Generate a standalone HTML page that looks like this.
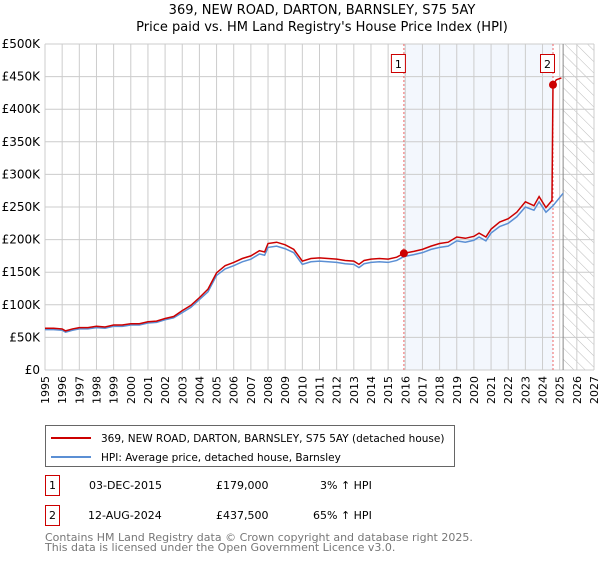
<!DOCTYPE html>
<html><head><meta charset="utf-8"><style>
body{margin:0;background:#fff;font-family:"DejaVu Sans","Liberation Sans",sans-serif;}
svg text{font-family:"DejaVu Sans","Liberation Sans",sans-serif;}
</style></head><body>
<svg id="c" width="600" height="560" viewBox="0 0 600 560">
<defs><pattern id="hatch" width="8" height="8" patternUnits="userSpaceOnUse" patternTransform="rotate(-45)"><line x1="0" y1="0" x2="0" y2="8" stroke="#bbb" stroke-width="1"/></pattern></defs>
<text x="322" y="14" text-anchor="middle" font-size="13">369, NEW ROAD, DARTON, BARNSLEY, S75 5AY</text>
<text x="322" y="31" text-anchor="middle" font-size="13">Price paid vs. HM Land Registry's House Price Index (HPI)</text>
<g id="plot"></g>
<g>
<rect x="45.5" y="425.5" width="409" height="41" fill="#fff" stroke="#666"/>
<line x1="51" y1="438" x2="91" y2="438" stroke="#cc0000" stroke-width="2"/>
<text x="101" y="442" font-size="10.5">369, NEW ROAD, DARTON, BARNSLEY, S75 5AY (detached house)</text>
<line x1="51" y1="457" x2="91" y2="457" stroke="#5b8fd4" stroke-width="2"/>
<text x="101" y="461" font-size="10.5">HPI: Average price, detached house, Barnsley</text>
</g>
<g font-size="11">
<rect x="45.5" y="475.5" width="14" height="20" fill="#fff" stroke="#cc0000"/><text x="52.5" y="489" text-anchor="middle">1</text>
<text x="89" y="489">03-DEC-2015</text><text x="216" y="489">£179,000</text><text x="320" y="489">3% ↑ HPI</text>
<rect x="45.5" y="505.5" width="14" height="20" fill="#fff" stroke="#cc0000"/><text x="52.5" y="519" text-anchor="middle">2</text>
<text x="88" y="519">12-AUG-2024</text><text x="216" y="519">£437,500</text><text x="313" y="519">65% ↑ HPI</text>
</g>
<text x="45" y="541" font-size="11" fill="#777">Contains HM Land Registry data © Crown copyright and database right 2025.</text>
<text x="45" y="551" font-size="11" fill="#777">This data is licensed under the Open Government Licence v3.0.</text>
</svg>
<script>
const yTicks=[0,50,100,150,200,250,300,350,400,450,500];
const yTickLabels=["£0","£50K","£100K","£150K","£200K","£250K","£300K","£350K","£400K","£450K","£500K"];
const xYears=[1995,1996,1997,1998,1999,2000,2001,2002,2003,2004,2005,2006,2007,2008,2009,2010,2011,2012,2013,2014,2015,2016,2017,2018,2019,2020,2021,2022,2023,2024,2025,2026,2027];
const hpiDates=[1995,1995.5,1996,1996.2,1996.6,1997,1997.5,1998,1998.5,1999,1999.5,2000,2000.5,2001,2001.5,2002,2002.5,2003,2003.5,2004,2004.5,2005,2005.5,2006,2006.5,2007,2007.5,2007.8,2008,2008.5,2009,2009.5,2010,2010.5,2011,2011.5,2012,2012.5,2013,2013.3,2013.6,2014,2014.5,2015,2015.5,2015.92,2016.5,2017,2017.5,2018,2018.5,2019,2019.5,2020,2020.3,2020.7,2021,2021.5,2022,2022.5,2023,2023.5,2023.8,2024.2,2024.61,2025.2];
const hpiValues=[62,62,61,58,61,63,63,65,64,67,67,69,69,72,73,77,80,88,96,108,120,145,155,160,166,170,178,176,188,190,186,180,162,166,167,166,165,163,162,157,163,165,166,165,168,174,177,180,185,188,190,198,196,199,204,198,210,220,225,235,250,245,258,242,252,271];
const priceDates=[1995,1995.5,1996,1996.2,1996.6,1997,1997.5,1998,1998.5,1999,1999.5,2000,2000.5,2001,2001.5,2002,2002.5,2003,2003.5,2004,2004.5,2005,2005.5,2006,2006.5,2007,2007.5,2007.8,2008,2008.5,2009,2009.5,2010,2010.5,2011,2011.5,2012,2012.5,2013,2013.3,2013.6,2014,2014.5,2015,2015.5,2015.92,2016.5,2017,2017.5,2018,2018.5,2019,2019.5,2020,2020.3,2020.7,2021,2021.5,2022,2022.5,2023,2023.5,2023.8,2024.2,2024.55,2024.61,2024.8,2025.1];
const priceValues=[64,64,63,60,63,65,65,67,66,69,69,71,71,74,75,79,82,91,99,111,124,149,160,165,171,175,183,181,194,196,192,185,167,171,172,171,170,168,167,162,168,170,171,170,173,179,182,185,190,194,196,204,202,205,210,204,216,227,232,242,258,252,266,249,260,437.5,445,448];
const sales=[{d:2015.92,v:179,n:"1"},{d:2024.61,v:437.5,n:"2"}];
const X0=45,X1=594,Y0=370,Y1=44;
const xs=d=>X0+(d-1995)/(2027-1995)*(X1-X0);
const ys=v=>Y0-v/500*(Y0-Y1);
const NS="http://www.w3.org/2000/svg";
const g=document.getElementById('plot');
function mk(t,a){const e=document.createElementNS(NS,t);for(const k in a)e.setAttribute(k,a[k]);g.appendChild(e);return e;}
let e;
e=mk('rect',{x:xs(2015.92),y:Y1,width:xs(2024.61)-xs(2015.92),height:Y0-Y1,fill:'#eef3fc',opacity:0.7});


e=mk('rect',{x:xs(2025.2),y:Y1,width:X1-xs(2025.2),height:Y0-Y1,fill:'url(#hatch)'});


xYears.forEach((yr,i)=>{
 e=mk('line',{x1:xs(yr),x2:xs(yr),y1:Y1,y2:Y0,stroke:'#ccc','stroke-width':1});
 
 
 e=mk('text',{x:0,y:0,'font-size':11,'text-anchor':'end',transform:`translate(${xs(yr)+4},376) rotate(-90)`});
 e.textContent=yr;
 
 
});
yTicks.forEach((v,i)=>{
 e=mk('line',{x1:X0,x2:X1,y1:ys(v),y2:ys(v),stroke:'#ccc','stroke-width':1});
 
 
 e=mk('text',{x:40,y:ys(v)+4,'font-size':12,'text-anchor':'end'});
 e.textContent=yTickLabels[i];
 
 
});
e=mk('line',{x1:xs(2025.2),x2:xs(2025.2),y1:Y1,y2:Y0,stroke:'#888','stroke-width':1});


sales.forEach(s=>{
 e=mk('line',{x1:xs(s.d),x2:xs(s.d),y1:Y1,y2:Y0,stroke:'#ee6666','stroke-width':1,'stroke-dasharray':'2,2'});
 
 
});
e=mk('polyline',{points:hpiDates.map((d,i)=>xs(d)+','+ys(hpiValues[i])).join(' '),fill:'none',stroke:'#5b8fd4','stroke-width':1.5});


e=mk('polyline',{points:priceDates.map((d,i)=>xs(d)+','+ys(priceValues[i])).join(' '),fill:'none',stroke:'#cc0000','stroke-width':1.5});


sales.forEach(s=>{
 e=mk('circle',{cx:xs(s.d),cy:ys(s.v),r:4,fill:'#cc0000'});
 
 
 e=mk('rect',{x:xs(s.d)-12.5,y:54.5,width:14,height:18,fill:'#fff',stroke:'#cc0000'});
 
 
 e=mk('text',{x:xs(s.d)-5.5,y:68,'font-size':11,'text-anchor':'middle'});
 e.textContent=s.n;
 
 
});
</script>
</body></html>
